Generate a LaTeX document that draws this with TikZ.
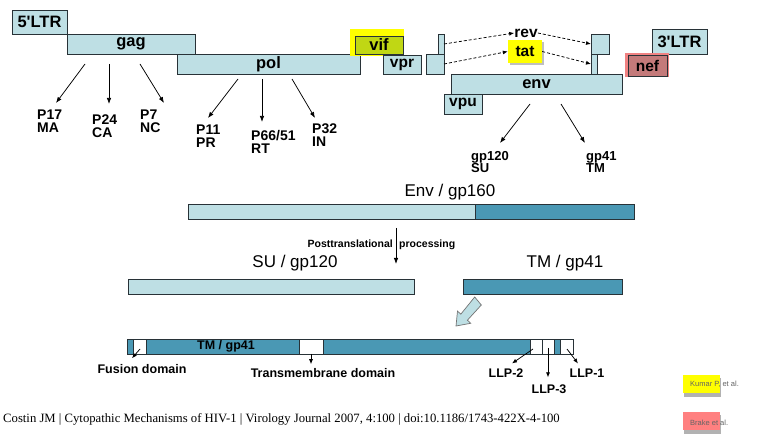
\documentclass[tikz,border=0pt]{standalone}
\usepackage{fontspec}
\setmainfont{Liberation Sans}
\newfontfamily\footfont{Liberation Serif}
\usetikzlibrary{arrows.meta}
\definecolor{lblue}{RGB}{190,223,228}
\definecolor{dteal}{RGB}{74,152,180}
\definecolor{linec}{RGB}{40,50,55}
\definecolor{vifgreen}{RGB}{192,215,20}
\definecolor{nefrose}{RGB}{196,122,122}
\definecolor{nefglow}{RGB}{240,130,130}
\definecolor{yel}{RGB}{255,255,0}
\definecolor{legpink}{RGB}{255,128,128}
\definecolor{leggray}{RGB}{100,100,100}
\begin{document}
\begin{tikzpicture}[x=1pt,y=-1pt,
  gene/.style={draw=linec, fill=lblue, line width=0.9pt, inner sep=0pt, outer sep=0pt,
    anchor=north west, font=\bfseries\fontsize{16.5}{16.5}\selectfont},
  plain/.style={draw=linec, fill=lblue, line width=0.9pt, inner sep=0pt, outer sep=0pt, anchor=north west},
  bar/.style={draw=linec, line width=0.9pt, inner sep=0pt, outer sep=0pt, anchor=north west},
  lab/.style={font=\bfseries\fontsize{14}{13}\selectfont, align=left, inner sep=0pt, anchor=north west},
  big/.style={font=\fontsize{17}{17}\selectfont, inner sep=0pt},
  small/.style={font=\bfseries\fontsize{12.5}{12.5}\selectfont, inner sep=0pt},
  posttxt/.style={font=\bfseries\fontsize{10.5}{10.5}\selectfont, inner sep=0pt},
  arr/.style={-{Latex[length=6pt,width=4.5pt]}, line width=0.75pt},
  sarr/.style={-{Latex[length=5pt,width=4pt]}, line width=0.75pt},
  dsh/.style={dash pattern=on 3pt off 2pt, -{Latex[length=5pt,width=4pt]}, line width=0.75pt},
  leg/.style={font=\fontsize{7.5}{7.5}\selectfont, text=leggray, inner sep=0pt, anchor=west}]
\useasboundingbox[fill=white] (0,0) rectangle (760,435);

% ---------- genome ----------
\node[gene, minimum width=55pt, minimum height=24pt] (ltr5) at (12,10) {5\textquotesingle LTR};
\node[gene, minimum width=128pt, minimum height=20pt] (gag) at (67,34) {gag};
\node[gene, minimum width=183pt, minimum height=20pt] (pol) at (177,54) {pol};
\fill[yel] (350,29) rectangle (404,56);
\node[gene, fill=vifgreen, minimum width=48pt, minimum height=18pt] (vif) at (355,36) {vif};
\node[gene, font=\bfseries\fontsize{15.5}{15.5}\selectfont, minimum width=38pt, minimum height=19pt] (vpr) at (383,55) {vpr};
\node[plain, minimum width=6pt, minimum height=20pt] (revL) at (438,34) {};
\node[plain, minimum width=18pt, minimum height=20pt] (tatL) at (426,54) {};
\node[plain, minimum width=18pt, minimum height=20pt] (revR) at (591,34) {};
\node[plain, minimum width=6pt, minimum height=20pt] (tatR) at (591,54) {};
\node[gene, minimum width=171pt, minimum height=20pt] (env) at (451,74) {env};
\node[gene, font=\bfseries\fontsize{15.5}{15.5}\selectfont, minimum width=38pt, minimum height=20pt] (vpu) at (444,94) {vpu};
\node[gene, minimum width=55pt, minimum height=25pt] (ltr3) at (652,29) {3\textquotesingle LTR};
\fill[nefglow] (625,53) rectangle (669,77);
\node[gene, fill=nefrose, font=\bfseries\fontsize{15.5}{15.5}\selectfont, minimum width=39pt, minimum height=21pt] (nef) at (628,55) {nef};

% rev / tat
\node[font=\bfseries\fontsize{15.5}{15.5}\selectfont, inner sep=0pt] (rev) at (526,33) {rev};
\fill[black!25] (510,42) rectangle (544,65);
\node[fill=yel, inner sep=0pt, minimum width=34pt, minimum height=23pt,
  font=\bfseries\fontsize{15.5}{15.5}\selectfont] (tat) at (525,51.5) {tat};
\draw[dsh] (revL.east) -- (rev.west);
\draw[dsh] (rev.east) -- (revR.west);
\draw[dsh] (tatL.east) -- (tat.west);
\draw[dsh] (tat.east) -- (tatR.west);

% products
\node[lab] (p17) at (37,110) {P17\\MA};
\node[lab] (p24) at (92,115) {P24\\CA};
\node[lab] (p7) at (140,110) {P7\\NC};
\node[lab] (p11) at (196,125) {P11\\PR};
\node[lab] (p66) at (251,130) {P66/51\\RT};
\node[lab] (p32) at (312,124) {P32\\IN};
\node[lab, font=\bfseries\fontsize{13}{12.5}\selectfont] (gp120) at (471,151) {gp120\\SU};
\node[lab, font=\bfseries\fontsize{13}{12.5}\selectfont] (gp41) at (586,151) {gp41\\TM};

\draw[arr] ([shift={(18,10)}]gag.south west) -- ([shift={(19,-7)}]p17.north west);
\draw[arr] ([shift={(42,10)}]gag.south west) -- ([shift={(17,-11)}]p24.north west);
\draw[arr] ([shift={(73,10)}]gag.south west) -- ([shift={(24,-7)}]p7.north west);
\draw[arr] ([shift={(61,5)}]pol.south west) -- ([shift={(12,-7)}]p11.north west);
\draw[arr] ([shift={(85,5)}]pol.south west) -- ([shift={(11,-8)}]p66.north west);
\draw[arr] ([shift={(115,5)}]pol.south west) -- ([shift={(3,-6)}]p32.north west);
\draw[arr] ([shift={(79,10)}]env.south west) -- ([shift={(29,-8)}]gp120.north west);
\draw[arr] ([shift={(110,10)}]env.south west) -- ([shift={(-1,-8)}]gp41.north west);

% ---------- Env / gp160 ----------
\node[big] (envt) at (450,192) {Env / gp160};
\node[bar, fill=lblue, minimum width=287pt, minimum height=15pt] (envL) at (188,204) {};
\node[bar, fill=dteal, minimum width=159pt, minimum height=15pt] (envR) at (475,204) {};
\node[posttxt, anchor=base east] (post1) at (393,247.5) {Posttranslational};
\node[posttxt, anchor=base west] (post2) at (399,247.5) {processing};
\coordinate (pstart) at (396,228);
\node[big] (sut) at (295,263) {SU / gp120};
\node[big] (tmt) at (565,263) {TM / gp41};
\node[bar, fill=lblue, minimum width=286pt, minimum height=15pt] (su) at (128,279) {};
\node[bar, fill=dteal, minimum width=159pt, minimum height=15pt] (tm) at (463,279) {};
\draw[arr, line width=0.8pt] (pstart) -- (396,264);

% block arrow
\draw[fill=lblue, draw=black!55, line width=0.7pt]
  (456,326) -- (470.7,323.3) -- (467.4,320.2) -- (481.3,305.0) -- (474.7,297.0)
  -- (460.8,314.2) -- (457.5,311.1) -- cycle;

% ---------- TM detail ----------
\node[bar, fill=dteal, minimum width=446pt, minimum height=15pt] (tmbar) at (127,339) {};
\node[bar, fill=white, minimum width=13pt, minimum height=15pt] (fus) at (133,339) {};
\node[bar, fill=white, minimum width=24pt, minimum height=15pt] (tmd) at (299,339) {};
\node[bar, fill=white, minimum width=12pt, minimum height=15pt] (llp2b) at (530,339) {};
\node[bar, fill=white, minimum width=12pt, minimum height=15pt] (llp3b) at (542,339) {};
\node[bar, fill=white, minimum width=13pt, minimum height=15pt] (llp1b) at (560,339) {};
\node[font=\bfseries\fontsize{12.5}{12.5}\selectfont, inner sep=0pt] (tmin) at (226,346) {TM / gp41};

\node[small] (fusl) at (142,369) {Fusion domain};
\node[small] (tmdl) at (323,373) {Transmembrane domain};
\node[small] (llp2) at (506,373) {LLP-2};
\node[small] (llp3) at (549,389) {LLP-3};
\node[small] (llp1) at (587,373) {LLP-1};
\draw[sarr] ([shift={(7,10)}]fus.north west) -- ([shift={(-10,-6)}]fusl.north);
\draw[sarr] (tmd.south) -- ([shift={(-12,-4)}]tmdl.north);
\draw[sarr] ([shift={(3,10)}]llp2b.north west) -- ([shift={(6,-5)}]llp2.north);
\draw[sarr] ([shift={(6,9)}]llp3b.north west) -- ([shift={(-1,-7)}]llp3.north);
\draw[sarr] ([shift={(7,10)}]llp1b.north west) -- ([shift={(-9,-5)}]llp1.north);

% ---------- footer & legend ----------
\node[font=\footfont\fontsize{12.7}{12.7}\selectfont, inner sep=0pt, anchor=west] (foot) at (3,419)
  {Costin JM | Cytopathic Mechanisms of HIV-1 | Virology Journal 2007, 4:100 | doi:10.1186/1743-422X-4-100};
\fill[black!30] (684,378) rectangle (721,397);
\fill[yel] (683,375) rectangle (720,393);
\node[leg] (kumar) at (690,384.5) {Kumar P, et al.};
\fill[black!30] (684,415) rectangle (721,434);
\fill[legpink] (683,412) rectangle (720,430);
\node[leg] (brake) at (690,422.5) {Brake et al.};
\end{tikzpicture}
\end{document}
